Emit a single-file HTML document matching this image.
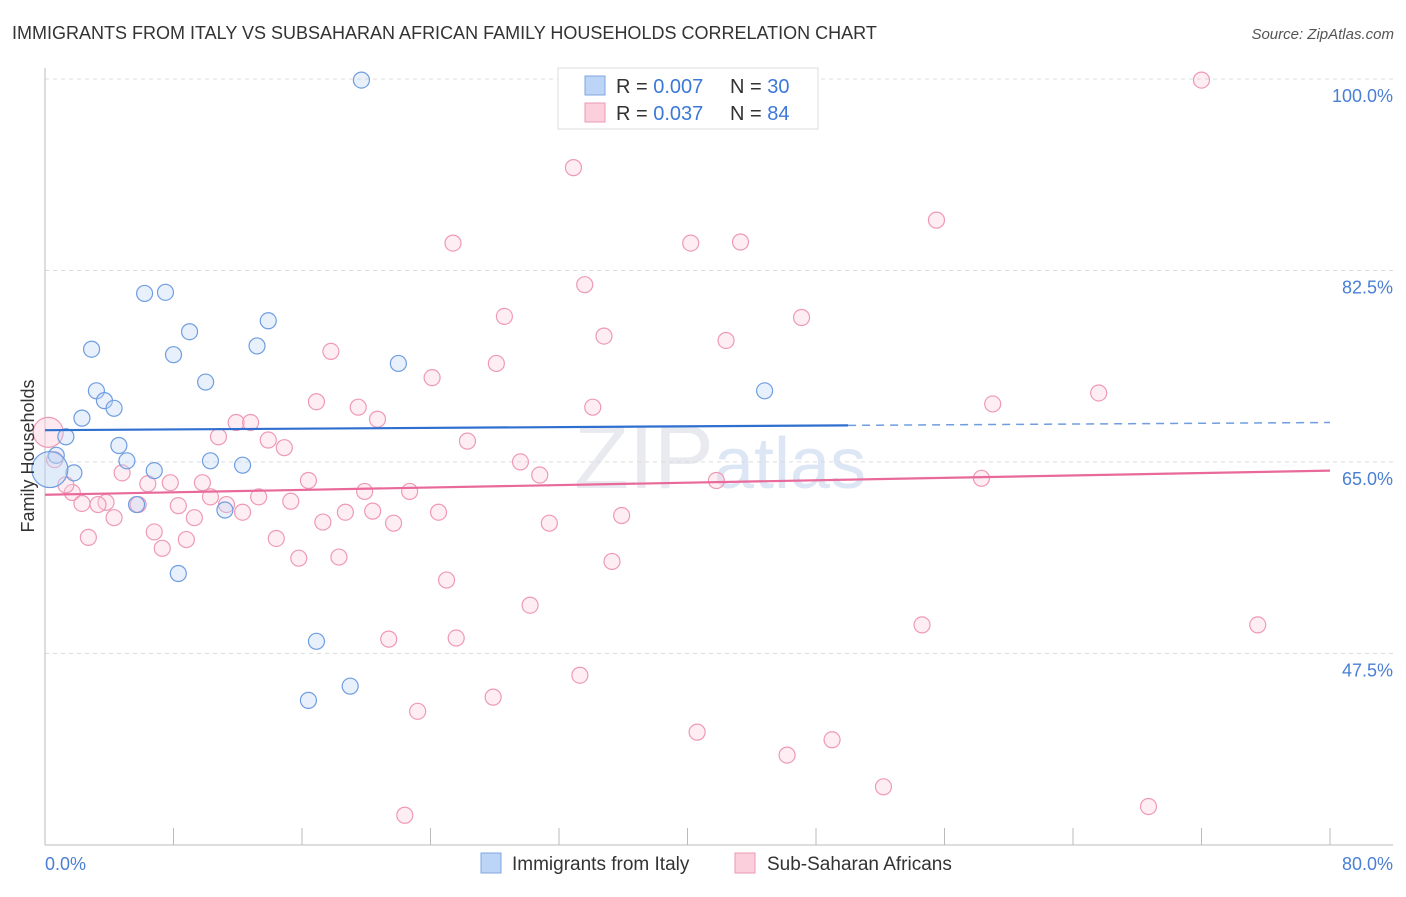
<!DOCTYPE html>
<html><head><meta charset="utf-8"><style>
body{margin:0;background:#fff;font-family:"Liberation Sans",sans-serif;}
svg text{font-family:"Liberation Sans",sans-serif;}
</style></head><body>
<svg id="chart" width="1406" height="892" xmlns="http://www.w3.org/2000/svg">
<text x="12" y="39" font-size="18" fill="#333">IMMIGRANTS FROM ITALY VS SUBSAHARAN AFRICAN FAMILY HOUSEHOLDS CORRELATION CHART</text>
<text x="1394" y="39" font-size="15" fill="#555" text-anchor="end" font-style="italic">Source: ZipAtlas.com</text>
<text x="720" y="488" font-size="90" fill="#e8eaf0" text-anchor="middle" font-family="Liberation Serif">ZIP<tspan font-family="Liberation Sans" fill="#dde6f4" font-size="72">atlas</tspan></text>
<g id="grid"></g><g id="axes"></g><g id="marks"></g>
<text transform="translate(34,456) rotate(-90)" font-size="18" fill="#333" text-anchor="middle">Family Households</text>
<text x="45" y="870" font-size="18" fill="#4a7fd4">0.0%</text>
<text x="1393" y="870" font-size="18" fill="#4a7fd4" text-anchor="end">80.0%</text>
<g>
<rect x="558" y="68" width="260" height="61" fill="#fff" stroke="#ddd"/>
<rect x="585" y="76" width="20" height="19" fill="#bcd4f5" stroke="#7fa6e0"/>
<rect x="585" y="103" width="20" height="19" fill="#fbcfdc" stroke="#ee9ab4"/>
<text x="616" y="93" font-size="20" fill="#333">R = <tspan fill="#3b78d8">0.007</tspan></text>
<text x="730" y="93" font-size="20" fill="#333">N = <tspan fill="#3b78d8">30</tspan></text>
<text x="616" y="120" font-size="20" fill="#333">R = <tspan fill="#3b78d8">0.037</tspan></text>
<text x="730" y="120" font-size="20" fill="#333">N = <tspan fill="#3b78d8">84</tspan></text>
</g>
<g>
<rect x="481" y="853" width="20" height="20" fill="#bcd4f5" stroke="#7fa6e0"/>
<text x="512" y="870" font-size="19" fill="#333">Immigrants from Italy</text>
<rect x="735" y="853" width="20" height="20" fill="#fbcfdc" stroke="#ee9ab4"/>
<text x="767" y="870" font-size="19" fill="#333">Sub-Saharan Africans</text>
</g>
</svg>
<script>
const yTicks=[100,82.5,65,47.5];
const yTickLabels=["100.0%","82.5%","65.0%","47.5%"];
const xTicks=[0,8,16,24,32,40,48,56,64,72,80];
const italyX=[19.7,6.2,7.5,13.9,9.0,2.9,8.0,13.2,22.0,10.0,3.2,3.7,4.3,44.8,2.3,1.3,4.6,0.7,5.1,10.3,12.3,6.8,1.8,5.7,11.2,8.3,16.9,19.0,16.4,0.3];
const italyY=[99.9,80.4,80.5,77.9,76.9,75.3,74.8,75.6,74.0,72.3,71.5,70.6,69.9,71.5,69.0,67.3,66.5,65.6,65.1,65.1,64.7,64.2,64.0,61.1,60.6,54.8,48.6,44.5,43.2,64.3];
const africaX=[72.0,32.9,55.5,25.4,40.2,43.3,33.6,28.6,47.1,34.8,42.4,17.8,28.1,24.1,59.0,65.6,16.9,19.5,34.1,20.7,11.9,12.8,10.8,13.9,26.3,14.9,29.6,4.8,30.8,41.8,58.3,16.4,6.4,9.8,7.8,19.9,22.7,1.7,10.3,13.3,15.3,3.8,2.3,3.3,5.8,8.3,11.3,12.3,18.7,20.4,24.5,35.9,4.3,9.3,17.3,21.7,31.4,2.7,6.8,14.4,8.8,7.3,15.8,18.3,35.3,25.0,30.2,54.6,75.5,21.4,25.6,33.3,27.9,23.2,40.6,49.0,46.2,52.2,68.7,22.4,0.2,0.6,1.3];
const africaY=[99.9,91.9,87.1,85.0,85.0,85.1,81.2,78.3,78.2,76.5,76.1,75.1,74.0,72.7,70.3,71.3,70.5,70.0,70.0,68.9,68.6,68.6,67.3,67.0,66.9,66.3,65.0,64.0,63.8,63.3,63.5,63.3,63.0,63.1,63.1,62.3,62.3,62.2,61.8,61.8,61.4,61.3,61.2,61.1,61.1,61.0,61.1,60.4,60.4,60.5,60.4,60.1,59.9,59.9,59.5,59.4,59.4,58.1,58.6,58.0,57.9,57.1,56.2,56.3,55.9,54.2,51.9,50.1,50.1,48.8,48.9,45.5,43.5,42.2,40.3,39.6,38.2,35.3,33.5,32.7,67.7,65.2,62.9];
const italyTrend=[67.9,68.6];
const africaTrend=[62.0,64.2];
const NS="http://www.w3.org/2000/svg";
const X0=45,X1=1330;
function xs(v){return X0+(v/80)*(X1-X0);}
function ys(v){return 79+(100-v)*10.94;}
function mk(tag,attrs,parent){const e=document.createElementNS(NS,tag);for(const k in attrs)e.setAttribute(k,attrs[k]);parent.appendChild(e);return e;}
const grid=document.getElementById('grid'),axes=document.getElementById('axes'),marks=document.getElementById('marks');
yTicks.forEach((t,i)=>{
  const l=mk('line',{x1:45,x2:1393,y1:ys(t),y2:ys(t),stroke:'#dcdcdc','stroke-dasharray':'4,4'},grid);
  
  
  const tx=mk('text',{x:1393,y:ys(t)+23,'font-size':18,fill:'#4a7fd4','text-anchor':'end'},grid);
  tx.textContent=yTickLabels[i];
  
  
});
let a=mk('line',{x1:45,x2:45,y1:68,y2:845,stroke:'#bbb'},axes);


a=mk('line',{x1:45,x2:1393,y1:845,y2:845,stroke:'#bbb'},axes);


xTicks.forEach(t=>{
  const l=mk('line',{x1:xs(t),x2:xs(t),y1:828,y2:845,stroke:'#bbb'},axes);
  
  
});
function dots(X,Y,fill,stroke,name,bigIdx){
  X.forEach((x,i)=>{
    const big=bigIdx.includes(i);
    const c=mk('circle',{cx:xs(x),cy:ys(Y[i]),r:big?(name==='italy-point'?18:15):8,fill:fill,'fill-opacity':big?0.45:0.35,stroke:stroke,'stroke-width':1.2},marks);
    
    
  });
}
dots(africaX,africaY,'#fbcfdc','#ee9ab4','africa-point',[80]);
dots(italyX,italyY,'#bcd4f5','#6f9de0','italy-point',[29]);
const bm=50;
let t=mk('line',{x1:xs(0),y1:ys(italyTrend[0]),x2:xs(bm),y2:ys(italyTrend[0]+(italyTrend[1]-italyTrend[0])*bm/80),stroke:'#2f6fd0','stroke-width':2.2},marks);


t=mk('line',{x1:xs(bm),y1:ys(italyTrend[0]+(italyTrend[1]-italyTrend[0])*bm/80),x2:xs(80),y2:ys(italyTrend[1]),stroke:'#6f9de0','stroke-width':1.5,'stroke-dasharray':'8,6'},marks);


t=mk('line',{x1:xs(0),y1:ys(africaTrend[0]),x2:xs(80),y2:ys(africaTrend[1]),stroke:'#e8699a','stroke-width':2.2},marks);


</script>
</body></html>
